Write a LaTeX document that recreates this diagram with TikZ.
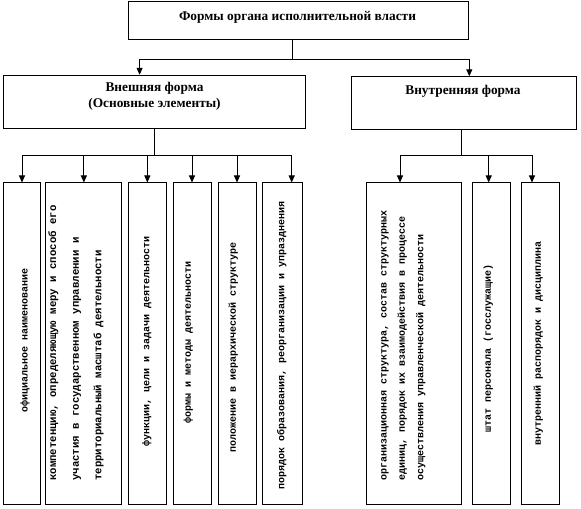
\documentclass[tikz,border=0pt]{standalone}
\usepackage{fontspec}
\setmainfont{Liberation Serif}
\newfontfamily\courier{Liberation Mono}
\usetikzlibrary{arrows.meta}

\begin{document}
\begin{tikzpicture}[x=0.75pt,y=0.75pt,yscale=-1,xscale=1,
  box/.style={draw, line width=0.75pt, inner sep=0pt},
  arr/.style={line width=0.75pt, -{Triangle[length=5.25pt,width=4.5pt]}},
  head/.style={font=\bfseries\fontsize{10}{12}\selectfont, inner sep=0.75pt, align=center},
  vtext/.style={rotate=90, font=\courier\bfseries\fontsize{7.5}{9}\selectfont, inner sep=0.75pt}]
\useasboundingbox (0,0) rectangle (581,509);

%Shape: Rectangle [top]
\node[box, minimum width=255pt, minimum height=28.5pt] (top) at (298,21) {};
%Shape: Rectangle [external form]
\node[box, minimum width=226.5pt, minimum height=39.75pt] (ext) at (154.7,101.8) {};
%Shape: Rectangle [internal form]
\node[box, minimum width=169.3pt, minimum height=39.2pt] (int) at (463.9,102.9) {};

%Shape: Rectangle [leaves of external form]
\node[box, minimum width=28pt, minimum height=240.75pt] (b1) at (22,343.5) {};
\node[box, minimum width=56.8pt, minimum height=240.75pt] (b2) at (83.85,343.5) {};
\node[box, minimum width=29pt, minimum height=240.75pt] (b3) at (147.35,343.5) {};
\node[box, minimum width=28.5pt, minimum height=240.75pt] (b4) at (192,343.5) {};
\node[box, minimum width=28.5pt, minimum height=240.75pt] (b5) at (237,343.5) {};
\node[box, minimum width=30pt, minimum height=240.75pt] (b6) at (282,343.5) {};
%Shape: Rectangle [leaves of internal form]
\node[box, minimum width=71.25pt, minimum height=240.75pt] (b7) at (414.2,343.5) {};
\node[box, minimum width=29pt, minimum height=240.75pt] (b8) at (491.35,343.5) {};
\node[box, minimum width=28.2pt, minimum height=240.75pt] (b9) at (540.5,343.5) {};

%Straight Lines [top -> forms]
\coordinate (j0) at (292.5,60);
\draw[line width=0.75pt] (top.south -| j0) -- (j0);
\draw[arr] (j0) -| (ext.north -| 139.6,0);
\draw[arr] (j0) -| (int.north -| 469.3,0);

%Straight Lines [external form -> leaves]
\coordinate (j1) at (ext.south |- 0,156);
\draw[line width=0.75pt] (ext.south) -- (j1);
\draw[arr] (j1) -| (b1.north);
\draw[arr] (j1) -| (b2.north);
\draw[arr] (j1) -| (b3.north);
\draw[arr] (j1) -| (b4.north);
\draw[arr] (j1) -| (b5.north);
\draw[arr] (j1) -| (b6.north -| 291.7,0);

%Straight Lines [internal form -> leaves]
\coordinate (j2) at (461.7,156);
\draw[line width=0.75pt] (int.south -| j2) -- (j2);
\draw[arr] (j2) -| (b7.north -| 400,0);
\draw[arr] (j2) -| (b8.north -| 488.7,0);
\draw[arr] (j2) -| (b9.north -| 532,0);

% Text Node
\node[head] (toptxt) at (297.5,17) {Формы органа исполнительной власти};
% Text Node
\node[head] (exttxt) at (154.5,96) {Внешняя форма\\(Основные элементы)};
% Text Node
\node[head] (inttxt) at (463,91) {Внутренняя форма};

% Text Node
\node[vtext] (t1) at (25,340) {официальное наименование};
% Text Node
\node[vtext, align=left, font=\courier\bfseries\fontsize{8}{17}\selectfont] (t2) at (76,343) {компетенцию, определяющую меру и способ его\\участия в государственном управлении и\\территориальный масштаб деятельности};
% Text Node
\node[vtext] (t3) at (146.7,341) {функции, цели и задачи деятельности};
% Text Node
\node[vtext] (t4) at (188.3,342) {формы и методы деятельности};
% Text Node
\node[vtext] (t5) at (233.3,347) {положение в иерархической структуре};
% Text Node
\node[vtext] (t6) at (281.7,345) {порядок образования, реорганизации и упразднения};
% Text Node
\node[vtext, align=left, font=\courier\bfseries\fontsize{7.5}{13.75}\selectfont] (t7) at (403.3,345) {организационная структура, состав структурных\\единиц, порядок их взаимодействия в процессе\\осуществления управленческой деятельности};
% Text Node
\node[vtext] (t8) at (488.3,348) {штат персонала (госслужащие)};
% Text Node
\node[vtext] (t9) at (538.3,343) {внутренний распорядок и дисциплина};

\end{tikzpicture}
\end{document}
